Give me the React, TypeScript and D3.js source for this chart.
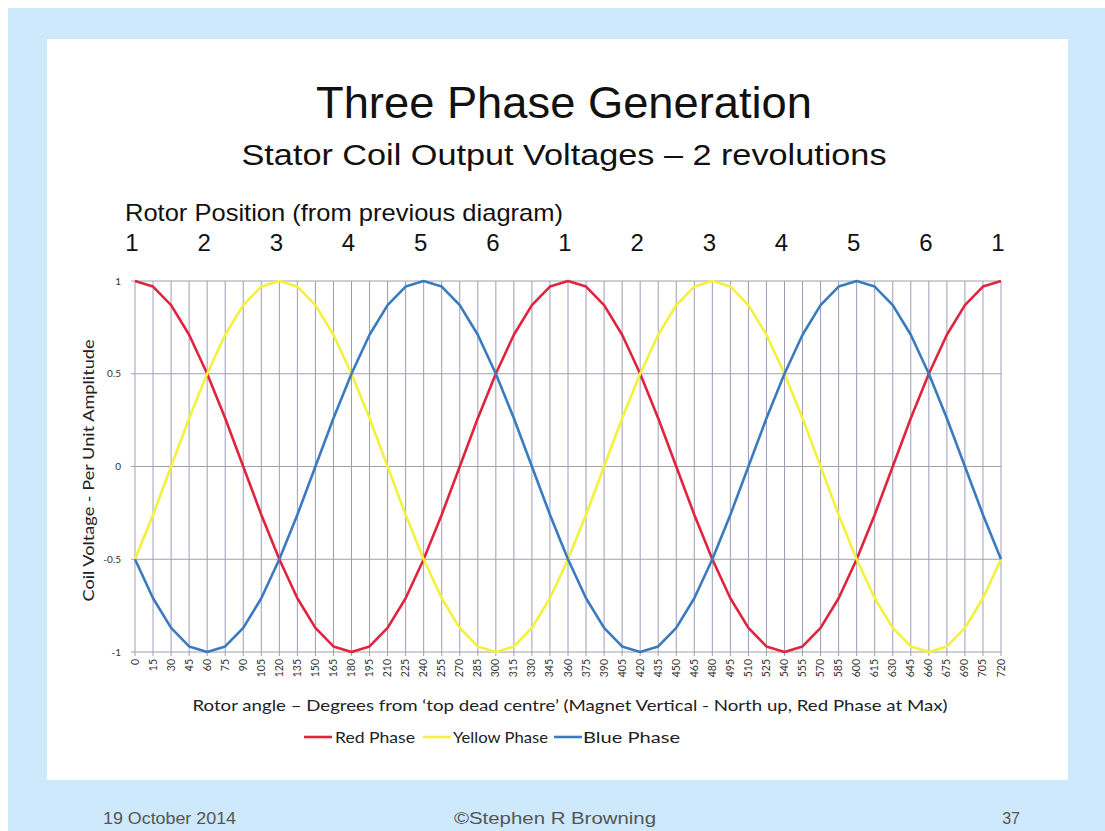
import React from "react";
import * as d3 from "d3";

const angles = [0,15,30,45,60,75,90,105,120,135,150,165,180,195,210,225,240,255,270,285,300,315,330,345,360,375,390,405,420,435,450,465,480,495,510,525,540,555,570,585,600,615,630,645,660,675,690,705,720];

const redPhase = [1,0.97,0.87,0.71,0.5,0.26,0,-0.26,-0.5,-0.71,-0.87,-0.97,-1,-0.97,-0.87,-0.71,-0.5,-0.26,0,0.26,0.5,0.71,0.87,0.97,1,0.97,0.87,0.71,0.5,0.26,0,-0.26,-0.5,-0.71,-0.87,-0.97,-1,-0.97,-0.87,-0.71,-0.5,-0.26,0,0.26,0.5,0.71,0.87,0.97,1];

const yellowPhase = [-0.5,-0.26,0,0.26,0.5,0.71,0.87,0.97,1,0.97,0.87,0.71,0.5,0.26,0,-0.26,-0.5,-0.71,-0.87,-0.97,-1,-0.97,-0.87,-0.71,-0.5,-0.26,0,0.26,0.5,0.71,0.87,0.97,1,0.97,0.87,0.71,0.5,0.26,0,-0.26,-0.5,-0.71,-0.87,-0.97,-1,-0.97,-0.87,-0.71,-0.5];

const bluePhase = [-0.5,-0.71,-0.87,-0.97,-1,-0.97,-0.87,-0.71,-0.5,-0.26,0,0.26,0.5,0.71,0.87,0.97,1,0.97,0.87,0.71,0.5,0.26,0,-0.26,-0.5,-0.71,-0.87,-0.97,-1,-0.97,-0.87,-0.71,-0.5,-0.26,0,0.26,0.5,0.71,0.87,0.97,1,0.97,0.87,0.71,0.5,0.26,0,-0.26,-0.5];

const yTicks = [-1,-0.5,0,0.5,1];
const rotorAngles = [0,60,120,180,240,300,360,420,480,540,600,660,720];
const rotorLabels = ["1","2","3","4","5","6","1","2","3","4","5","6","1"];

const seriesNames = ["Red Phase","Yellow Phase","Blue Phase"];
const seriesColors = ["#e0243e","#f2f23c","#3a7bbf"];

const W = 1105, H = 831;
const SANS = "'Liberation Sans', Arial, sans-serif";
const CAL = "Lato, 'Open Sans', sans-serif";

export default function App() {
  const x = d3.scaleLinear().domain([0, 720]).range([135, 1001]);
  const y = d3.scaleLinear().domain([-1, 1]).range([652, 281]);
  const series = [redPhase, yellowPhase, bluePhase];
  const line = (vals: number[]) =>
    d3.line<number>().x((_, i) => x(angles[i])).y((d) => y(d))(vals) || "";

  const legendItems = [
    { lx: 304, tx: 335, len: 80 },
    { lx: 423, tx: 453, len: 95 },
    { lx: 554, tx: 583, len: 97 },
  ];

  return (
    <svg width={W} height={H} style={{ position: "absolute", left: 0, top: 0, display: "block" }}>
      <rect x={0} y={0} width={W} height={H} fill="#ffffff" />
      <rect x={8} y={8} width={W - 8} height={H - 8} fill="#cde9fb" />
      <rect x={47} y={39} width={1021} height={741} fill="#ffffff" />

      <text x={564} y={118} textAnchor="middle" fontFamily={SANS} fontSize={44} fill="#111" textLength={496} lengthAdjust="spacingAndGlyphs">
        Three Phase Generation
      </text>
      <text x={564} y={165} textAnchor="middle" fontFamily={SANS} fontSize={30} fill="#111" textLength={645} lengthAdjust="spacingAndGlyphs">
        Stator Coil Output Voltages – 2 revolutions
      </text>
      <text x={125} y={221} fontFamily={SANS} fontSize={24} fill="#111" textLength={438} lengthAdjust="spacingAndGlyphs">
        Rotor Position (from previous diagram)
      </text>
      {rotorAngles.map((a, i) => (
        <text key={"r" + i} x={x(a) - 3} y={251} textAnchor="middle" fontFamily={SANS} fontSize={24} fill="#111">
          {rotorLabels[i]}
        </text>
      ))}

      {/* grid */}
      {angles.map((a) => (
        <line key={"v" + a} x1={x(a)} x2={x(a)} y1={y(1)} y2={y(-1) + 4} stroke="#9c9cbc" strokeWidth={1} />
      ))}
      {yTicks.map((t) => (
        <line key={"h" + t} x1={x(0) - 4} x2={x(720)} y1={y(t)} y2={y(t)} stroke="#a0a0a8" strokeWidth={1} />
      ))}

      {/* y tick labels */}
      {yTicks.map((t) => (
        <text key={"yl" + t} x={121} y={y(t) + 3.5} textAnchor="end" fontFamily={CAL} fontSize={10} fill="#333">
          {String(t)}
        </text>
      ))}
      {/* x tick labels */}
      {angles.map((a) => (
        <text
          key={"xl" + a}
          transform={`translate(${x(a) + 3.5},${y(-1) + 7}) rotate(-90)`}
          textAnchor="end"
          fontFamily={CAL}
          fontSize={10.5}
          fill="#333"
        >
          {String(a)}
        </text>
      ))}

      {/* series */}
      {series.map((s, i) => (
        <path key={"s" + i} d={line(s)} fill="none" stroke={seriesColors[i]} strokeWidth={2.6} strokeLinejoin="round" />
      ))}

      {/* axis titles */}
      <text
        transform={`translate(94,${(y(1) + y(-1)) / 2 + 4}) rotate(-90)`}
        textAnchor="middle"
        fontFamily={CAL}
        fontSize={16}
        fill="#222"
        textLength={262}
        lengthAdjust="spacingAndGlyphs"
      >
        Coil Voltage - Per Unit Amplitude
      </text>
      <text x={570} y={711} textAnchor="middle" fontFamily={CAL} fontSize={16} fill="#222" textLength={755} lengthAdjust="spacingAndGlyphs">
        Rotor angle – Degrees from ‘top dead centre’  (Magnet Vertical - North up, Red Phase at Max)
      </text>

      {/* legend */}
      {seriesNames.map((n, i) => (
        <g key={"lg" + i}>
          <line x1={legendItems[i].lx} x2={legendItems[i].lx + 28} y1={737} y2={737} stroke={seriesColors[i]} strokeWidth={2.6} />
          <text x={legendItems[i].tx} y={743} fontFamily={CAL} fontSize={16} fill="#222" textLength={legendItems[i].len} lengthAdjust="spacingAndGlyphs">
            {n}
          </text>
        </g>
      ))}

      {/* footer */}
      <text x={103} y={824} fontFamily={SANS} fontSize={16} fill="#555" textLength={133} lengthAdjust="spacingAndGlyphs">
        19 October 2014
      </text>
      <text x={555} y={824} textAnchor="middle" fontFamily={SANS} fontSize={16} fill="#555" textLength={202} lengthAdjust="spacingAndGlyphs">
        ©Stephen R Browning
      </text>
      <text x={1020} y={824} textAnchor="end" fontFamily={SANS} fontSize={16} fill="#555">
        37
      </text>
    </svg>
  );
}
